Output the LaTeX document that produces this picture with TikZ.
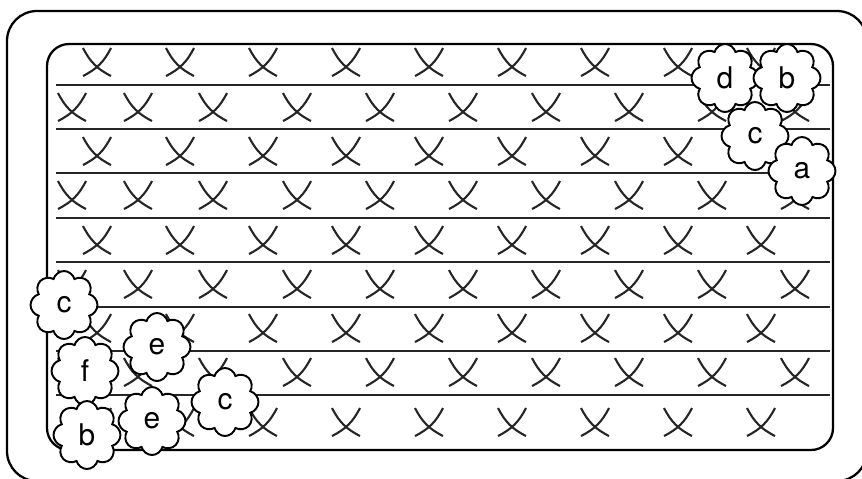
\documentclass[tikz,border=0pt]{standalone}
\usepackage{fontspec}
\setmainfont{TeX Gyre Heros}
\usetikzlibrary{shapes.symbols}
\tikzset{
  frame/.style={
    black,
    line width=1.3pt,
    rounded corners=#1
  },
  rule/.style={
    black!85,
    line width=1.3pt
  },
  cross/.style={
    black!85,
    line width=1.2pt
  },
  puff/.style={
    cloud,
    cloud puffs=8,
    cloud puff arc=150,
    aspect=1,
    draw,
    fill=white,
    line width=1.1pt,
    minimum width=1.34cm,
    minimum height=1.36cm,
    inner sep=0pt,
    font=\fontsize{17}{17}\selectfont
  }
}

\begin{document}
\begin{tikzpicture}[x=0.02cm,y=-0.02cm]

    \useasboundingbox (0,0) rectangle (862,478);

    % 外枠
    \draw[frame=0.6cm] (7,11) rectangle (867,481);

    % 内枠
    \draw[frame=0.44cm] (47,44) rectangle (833,450);

    % 横線
    \foreach \y in {85,129,173,218,262,307,351,395} {
        \draw[rule] (56,\y) -- (830,\y);
    }

    % バツ印（偶数段）
    \foreach \y in {62,151,240,328,422} {
        \foreach \x in {97,180,...,761} {
            \draw[cross] (\x-14,\y-14) to[bend right=18] (\x+14,\y+14);
            \draw[cross] (\x+14,\y-14) to[bend left=18] (\x-14,\y+14);
        }
    }

    % バツ印（奇数段）
    \foreach \y in {107,195,284,372} {
        \foreach \x in {72,138,213,297,380,463,546,629,712,795} {
            \draw[cross] (\x-14,\y-14) to[bend right=18] (\x+14,\y+14);
            \draw[cross] (\x+14,\y-14) to[bend left=18] (\x-14,\y+14);
        }
    }

    % 雲（右上）
    \node[puff] (cloudD)  at (725,78)  {d};
    \node[puff] (cloudB)  at (787,78)  {b};
    \node[puff] (cloudC)  at (755,136) {c};
    \node[puff] (cloudA)  at (802,171) {a};

    % 雲（左下）
    \node[puff] (cloudCl) at (64,305)  {c};
    \node[puff] (cloudEu) at (157,347) {e};
    \node[puff] (cloudF)  at (85,371)  {f};
    \node[puff] (cloudCr) at (225,402) {c};
    \node[puff] (cloudEd) at (152,421) {e};
    \node[puff] (cloudBl) at (87,435)  {b};

\end{tikzpicture}
\end{document}
